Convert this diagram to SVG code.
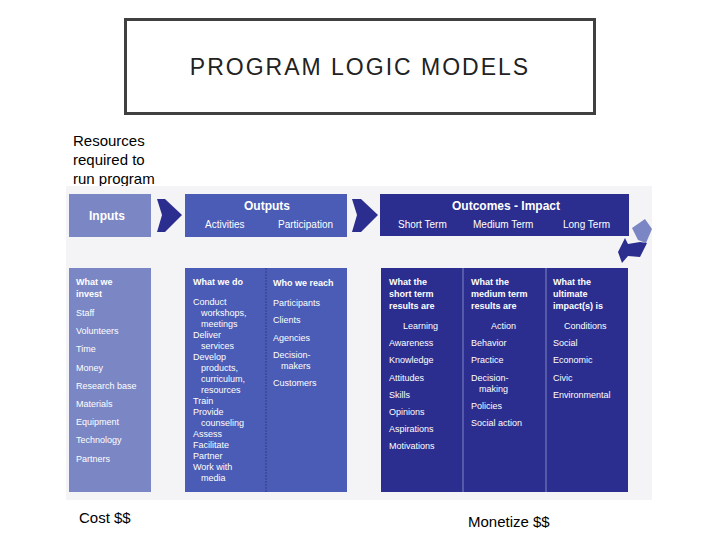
<svg xmlns="http://www.w3.org/2000/svg" width="720" height="540" viewBox="0 0 720 540">
<style>
.t{font-family:"Liberation Sans",Arial,sans-serif;fill:#fff;font-size:9px}
.b{font-weight:bold}
.h{font-size:12px;font-weight:bold}
.s{font-size:10px}
.k{font-family:"Liberation Sans",Arial,sans-serif;fill:#000;font-size:15px}
</style>
<rect x="0" y="0" width="720" height="540" fill="#fff"/>
<g id="title"><rect x="125.5" y="19.5" width="469" height="94" fill="#fff" stroke="#404040" stroke-width="3"/>
<text x="360" y="75" text-anchor="middle" font-family="Liberation Sans,Arial,sans-serif" font-size="23" letter-spacing="2" fill="#222">PROGRAM LOGIC MODELS</text></g>
<g id="labels">
<text class="k" x="73" y="146">Resources</text><text class="k" x="73" y="165">required to</text><text class="k" x="73" y="184">run program</text>
<text class="k" x="79" y="523">Cost $$</text>
<text class="k" x="468" y="527">Monetize $$</text></g>
<rect x="66" y="186" width="586" height="314" fill="#f4f4f6"/>
<g id="inputs">
<rect x="69" y="194" width="82" height="43" fill="#7b87c4"/>
<text class="t h" x="107" y="220" text-anchor="middle">Inputs</text>
<rect x="69" y="268" width="82" height="224" fill="#7b87c4"/>
<g class="t"><text class="b" x="76" y="285">What we</text><text class="b" x="76" y="297">invest</text>
<text x="76" y="316">Staff</text><text x="76" y="334">Volunteers</text><text x="76" y="352">Time</text><text x="76" y="371">Money</text><text x="76" y="389">Research base</text><text x="76" y="407">Materials</text><text x="76" y="425">Equipment</text><text x="76" y="443">Technology</text><text x="76" y="462">Partners</text></g></g>
<g id="outputs">
<rect x="185" y="194" width="162" height="43" fill="#4a5cb5"/>
<text class="t h" x="267" y="210" text-anchor="middle">Outputs</text>
<text class="t s" x="205" y="228">Activities</text><text class="t s" x="278" y="228">Participation</text>
<rect x="185" y="268" width="162" height="224" fill="#4a5cb5"/>
<line x1="266" y1="268" x2="266" y2="492" stroke="#2f3c8a" stroke-dasharray="2 1"/>
<g class="t"><text class="b" x="193" y="285">What we do</text>
<text x="193" y="305">Conduct</text><text x="201" y="316">workshops,</text><text x="201" y="327">meetings</text><text x="193" y="338">Deliver</text><text x="201" y="349">services</text><text x="193" y="360">Develop</text><text x="201" y="371">products,</text><text x="201" y="382">curriculum,</text><text x="201" y="393">resources</text><text x="193" y="404">Train</text><text x="193" y="415">Provide</text><text x="201" y="426">counseling</text><text x="193" y="437">Assess</text><text x="193" y="448">Facilitate</text><text x="193" y="459">Partner</text><text x="193" y="470">Work with</text><text x="201" y="481">media</text>
<text class="b" x="273" y="286">Who we reach</text>
<text x="273" y="306">Participants</text><text x="273" y="323">Clients</text><text x="273" y="341">Agencies</text><text x="273" y="358">Decision-</text><text x="281" y="369">makers</text><text x="273" y="386">Customers</text></g></g>
<g id="outcomes">
<rect x="380" y="194" width="249" height="42" fill="#2b2e8e"/>
<text class="t h" x="506" y="210" text-anchor="middle">Outcomes - Impact</text>
<text class="t s" x="398" y="228">Short Term</text><text class="t s" x="473" y="228">Medium Term</text><text class="t s" x="563" y="228">Long Term</text>
<rect x="381" y="268" width="247" height="224" fill="#2b2e8e"/>
<line x1="463" y1="268" x2="463" y2="492" stroke="#8088c0"/><line x1="546" y1="268" x2="546" y2="492" stroke="#8088c0"/>
<g class="t"><text class="b" x="389" y="285">What the</text><text class="b" x="389" y="297">short term</text><text class="b" x="389" y="309">results are</text>
<text x="403" y="329">Learning</text><text x="389" y="346">Awareness</text><text x="389" y="363">Knowledge</text><text x="389" y="381">Attitudes</text><text x="389" y="398">Skills</text><text x="389" y="415">Opinions</text><text x="389" y="432">Aspirations</text><text x="389" y="449">Motivations</text>
<text class="b" x="471" y="285">What the</text><text class="b" x="471" y="297">medium term</text><text class="b" x="471" y="309">results are</text>
<text x="491" y="329">Action</text><text x="471" y="346">Behavior</text><text x="471" y="363">Practice</text><text x="471" y="381">Decision-</text><text x="479" y="392">making</text><text x="471" y="409">Policies</text><text x="471" y="426">Social action</text>
<text class="b" x="553" y="285">What the</text><text class="b" x="553" y="297">ultimate</text><text class="b" x="553" y="309">impact(s) is</text>
<text x="564" y="329">Conditions</text><text x="553" y="346">Social</text><text x="553" y="363">Economic</text><text x="553" y="381">Civic</text><text x="553" y="398">Environmental</text></g></g>
<g id="connectors" fill="#2b2e8e">
<polygon points="157,199 165,199 182,215 165,232 157,232 162,215"/>
<polygon points="352,199 361,199 378,215 361,232 352,232 357,215"/>
<polygon points="645,219 652,229 646,243 638,240 632,228" fill="#7b87c4"/>
<polygon points="647,243 640,257 628,256 622,263 618,252 625,238 628,244 640,242" fill="#2b2e8e"/>
</g>
</svg>
